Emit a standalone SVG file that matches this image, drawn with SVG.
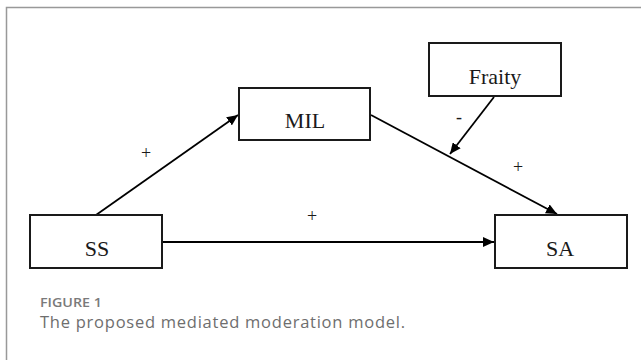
<svg xmlns="http://www.w3.org/2000/svg" width="641" height="360" viewBox="0 0 641 360">
<style>
.box{fill:#fff;stroke:#1a1a1a;stroke-width:2}
.lbl{font-family:"Liberation Serif","Times New Roman",serif;font-size:22px;fill:#1a1a1a;text-anchor:middle}
.sign{font-family:"Liberation Serif","Times New Roman",serif;font-size:18px;fill:#1a1a1a;text-anchor:middle}
.edge{stroke:#000;stroke-width:1.8;fill:none;marker-end:url(#ah)}
.cap1{font-family:"Open Sans","Noto Sans",sans-serif;font-size:13px;font-weight:600;fill:#7a7a7a}
.cap2{font-family:"Open Sans","Noto Sans",sans-serif;font-size:16.5px;fill:#6e6e6e}
</style>
<defs>
<marker id="ah" markerUnits="userSpaceOnUse" markerWidth="12" markerHeight="10" refX="11" refY="5" orient="auto">
<path d="M0,0 L11,5 L0,10 Z" fill="#000"/>
</marker>
</defs>
<rect width="641" height="360" fill="#fff"/>
<path d="M6.5,370 V7.5 H650" fill="none" stroke="#999" stroke-width="1.5"/>
<g id="connectors">
<line class="edge" x1="96" y1="215" x2="238" y2="115"/>
<line class="edge" x1="371" y1="115" x2="557" y2="214"/>
<line class="edge" x1="494" y1="97" x2="450" y2="154"/>
<line class="edge" x1="162" y1="242" x2="494" y2="242"/>
<text class="sign" x="146" y="159">+</text>
<text class="sign" x="312" y="222">+</text>
<text class="sign" x="518" y="173">+</text>
<text class="sign" x="459" y="123">-</text>
</g>
<g id="SS">
<rect class="box" x="30" y="215" width="132" height="53"/>
<text class="lbl" x="97" y="256">SS</text>
</g>
<g id="MIL">
<rect class="box" x="239" y="88" width="131" height="52"/>
<text class="lbl" x="305" y="128">MIL</text>
</g>
<g id="Fraity">
<rect class="box" x="429" y="43" width="132" height="53"/>
<text class="lbl" x="495" y="84">Fraity</text>
</g>
<g id="SA">
<rect class="box" x="495" y="215" width="132" height="53"/>
<text class="lbl" x="560" y="256">SA</text>
</g>
<text class="cap1" x="40" y="307" textLength="62" lengthAdjust="spacingAndGlyphs">FIGURE 1</text>
<text class="cap2" x="40" y="328" textLength="365" lengthAdjust="spacing">The proposed mediated moderation model.</text>
</svg>
